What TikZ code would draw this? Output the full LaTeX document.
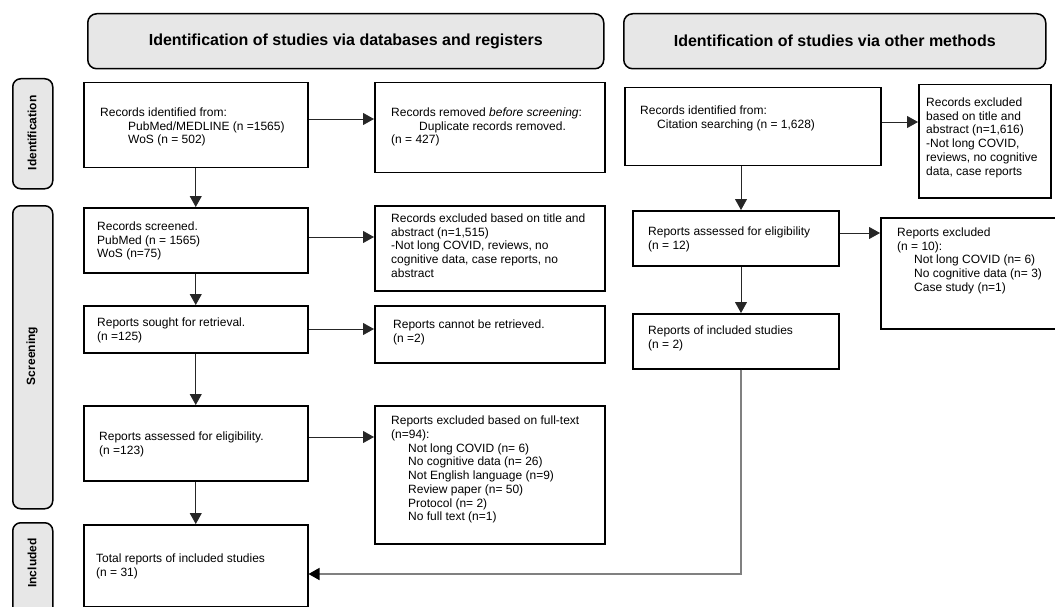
\documentclass[tikz,border=0pt]{standalone}
\usepackage{fontspec}
\setmainfont{Liberation Sans}
\usetikzlibrary{arrows.meta,calc}
\definecolor{hdrgray}{RGB}{231,231,231}
\definecolor{linkgray}{RGB}{128,128,128}
\newcommand{\ind}{\hspace*{17pt}}
\newcommand{\indw}{\hspace*{28pt}}
\begin{document}
\begin{tikzpicture}[x=1pt,y=-1pt,
  box/.style={draw=black,line width=1.5pt,inner sep=0pt,anchor=north west},
  hdr/.style={draw=black,line width=1.5pt,fill=hdrgray,rounded corners=9pt,inner sep=0pt,anchor=north west,
    font=\fontsize{16}{19}\selectfont\bfseries},
  side/.style={draw=black,line width=1.5pt,fill=hdrgray,rounded corners=8pt,inner sep=0pt,anchor=north west,minimum width=40pt},
  sidetxt/.style={rotate=90,inner sep=0pt,font=\fontsize{12}{14}\selectfont\bfseries},
  txt/.style={anchor=north west,inner sep=0pt,align=left,font=\fontsize{12}{13.8}\selectfont},
  arr/.style={draw=black!85,line width=0.9pt,-{Triangle[length=11pt,width=12pt]}},
  link/.style={draw=linkgray,line width=1.6pt,-{Triangle[length=11pt,width=12pt,color=black]}},
]
\useasboundingbox (0,0) rectangle (1055,607);

% headers
\node[hdr,minimum width=516pt,minimum height=55pt] (hdb) at (87,13) {Identification of studies via databases and registers};
\node[hdr,minimum width=422pt,minimum height=55pt] (hot) at (623,13) {Identification of studies via other methods};

% side labels
\node[side,minimum height=110pt] (sid) at (12,78) {};
\node[side,minimum height=303pt] (ssc) at (12,205) {};
\node[side,minimum height=100pt] (sin) at (12,522) {};
\node[sidetxt] (sidt) at (32,133) {Identification};
\node[sidetxt] (ssct) at (32,356) {Screening};
\node[sidetxt] (sint) at (32,563) {Included};

% left column
\node[box,minimum width=224pt,minimum height=85pt] (a1) at (83,82) {};
\node[box,minimum width=224pt,minimum height=65pt] (b1) at (83,207) {};
\node[box,minimum width=224pt,minimum height=47pt] (c1) at (83,305) {};
\node[box,minimum width=224pt,minimum height=75pt] (d1) at (83,405) {};
\node[box,minimum width=224pt,minimum height=82pt] (e1) at (83,524) {};

% exclusion column
\node[box,minimum width=230pt,minimum height=90pt] (a2) at (374,82) {};
\node[box,minimum width=230pt,minimum height=85pt] (b2) at (374,205) {};
\node[box,minimum width=230pt,minimum height=57pt] (c2) at (374,305) {};
\node[box,minimum width=230pt,minimum height=138pt] (d2) at (374,405) {};

% other methods
\node[box,minimum width=256pt,minimum height=78pt] (f1) at (624,87) {};
\node[box,minimum width=132pt,minimum height=113pt] (f2) at (918,84) {};
\node[box,minimum width=206pt,minimum height=55pt] (g1) at (632,210) {};
\node[box,minimum width=185pt,minimum height=111pt] (g2) at (880,217) {};
\node[box,minimum width=206pt,minimum height=55pt] (h1) at (632,313) {};

% texts
\node[txt] (a1t) at (100,107.5) {Records identified from:\\\indw PubMed/MEDLINE (n =1565)\\\indw WoS (n = 502)};
\node[txt] (a2t) at (391,107.5) {Records removed \textit{before screening}:\\\indw Duplicate records removed.\\(n = 427)};
\node[txt] (b1t) at (97,221.5) {Records screened.\\PubMed (n = 1565)\\WoS (n=75)};
\node[txt] (b2t) at (391,213.5) {Records excluded based on title and\\abstract (n=1,515)\\-Not long COVID, reviews, no\\cognitive data, case reports, no\\abstract};
\node[txt] (c1t) at (97,317.5) {Reports sought for retrieval.\\(n =125)};
\node[txt] (c2t) at (393,319.5) {Reports cannot be retrieved.\\(n =2)};
\node[txt] (d1t) at (99,432) {Reports assessed for eligibility.\\(n =123)};
\node[txt] (d2t) at (391,415.5) {Reports excluded based on full-text\\(n=94):\\\ind Not long COVID (n= 6)\\\ind No cognitive data (n= 26)\\\ind Not English language (n=9)\\\ind Review paper (n= 50)\\\ind Protocol (n= 2)\\\ind No full text (n=1)};
\node[txt] (e1t) at (96,553.5) {Total reports of included studies\\(n = 31)};
\node[txt] (f1t) at (640,105.5) {Records identified from:\\\ind Citation searching (n = 1,628)};
\node[txt] (f2t) at (926,97.5) {Records excluded\\based on title and\\abstract (n=1,616)\\-Not long COVID,\\reviews, no cognitive\\data, case reports};
\node[txt] (g1t) at (648,226.5) {Reports assessed for eligibility\\(n = 12)};
\node[txt] (g2t) at (897,227.5) {Reports excluded\\(n = 10):\\\ind Not long COVID (n= 6)\\\ind No cognitive data (n= 3)\\\ind Case study (n=1)};
\node[txt] (h1t) at (648,325.5) {Reports of included studies\\(n = 2)};

% connectors
\coordinate (colx) at (741,0);
\coordinate (a1o) at ($(a1.north east)+(0,37)$);
\draw[arr] (a1o) -- (a1o -| a2.west);
\draw[arr] (a1.south) -- (b1.north);
\coordinate (b1o) at ($(b1.north east)+(0,30)$);
\draw[arr] (b1o) -- (b1o -| b2.west);
\draw[arr] (b1.south) -- (c1.north);
\coordinate (c1o) at ($(c1.north east)+(0,24)$);
\draw[arr] (c1o) -- (c1o -| c2.west);
\draw[arr] (c1.south) -- (d1.north);
\coordinate (d1o) at ($(d1.north east)+(0,32)$);
\draw[arr] (d1o) -- (d1o -| d2.west);
\draw[arr] (d1.south) -- (e1.north);
\coordinate (f1o) at ($(f1.north east)+(0,35)$);
\draw[arr] (f1o) -- (f1o -| f2.west);
\draw[arr] (f1.south -| colx) -- (g1.north -| colx);
\coordinate (g1o) at ($(g1.north east)+(0,23)$);
\draw[arr] (g1o) -- (g1o -| g2.west);
\draw[arr] (g1.south -| colx) -- (h1.north -| colx);
\coordinate (e1in) at ($(e1.north east)+(0,50)$);
\draw[link] (h1.south -| colx) |- (e1in);
\end{tikzpicture}
\end{document}
